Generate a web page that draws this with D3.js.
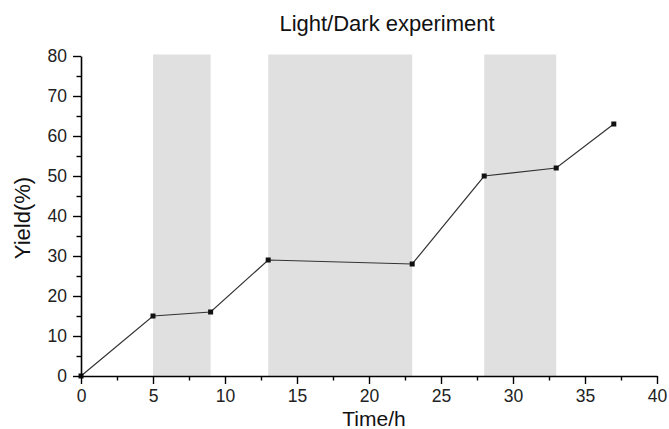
<!DOCTYPE html>
<html><head><meta charset="utf-8">
<script src="https://cdn.jsdelivr.net/npm/d3@7"></script>
<style>body{margin:0;background:#fff}svg{display:block}text{font-family:"Liberation Sans",Arial,sans-serif}</style>
</head><body>
<svg id="c" width="669" height="429"></svg>
<script>
const timeH = [0, 5, 9, 13, 23, 28, 33, 37];
const yieldPct = [0, 15, 16, 29, 28, 50, 52, 63];
const darkStart = [5, 13, 28];
const darkEnd = [9, 23, 33];
const xTicks = [0, 5, 10, 15, 20, 25, 30, 35, 40];
const yTicks = [0, 10, 20, 30, 40, 50, 60, 70, 80];

const svg = d3.select("#c");
const x = d3.scaleLinear().domain([0, 40]).range([81, 657]);
const y = d3.scaleLinear().domain([0, 80]).range([376, 56]);

svg.selectAll("rect.dark").data(darkStart).enter().append("rect")
  .attr("x", (d) => x(d)).attr("width", (d, i) => x(darkEnd[i]) - x(d))
  .attr("y", y(80) - 1.5).attr("height", y(0) - y(80) + 1.5).attr("fill", "#e0e0e0");

const pts = timeH.map((t, i) => [t, yieldPct[i]]);
svg.append("path").datum(pts)
  .attr("d", d3.line().x(d => x(d[0])).y(d => y(d[1])))
  .attr("fill", "none").attr("stroke", "#333").attr("stroke-width", 1.2);
svg.selectAll("rect.pt").data(pts).enter().append("rect")
  .attr("x", d => x(d[0]) - 2.5).attr("y", d => y(d[1]) - 2.5)
  .attr("width", 5).attr("height", 5).attr("fill", "#111");

function styleAxis(g) {
  g.select(".domain").attr("stroke", "#000").attr("stroke-width", 1.6);
  g.selectAll(".tick line").attr("stroke", "#000").attr("stroke-width", 1.4);
  g.selectAll(".tick text").attr("font-size", 17.5).attr("fill", "#222");
}

const xMinor = d3.range(2.5, 40, 5);
const yMinor = d3.range(5, 80, 10);
svg.append("g").attr("transform", `translate(0,${y(0)})`)
  .call(d3.axisBottom(x).tickValues(xMinor).tickSize(4.5).tickFormat("").tickSizeOuter(0))
  .call(g => { g.select(".domain").remove(); g.selectAll(".tick line").attr("stroke", "#000").attr("stroke-width", 1.4); });
svg.append("g").attr("transform", `translate(${x(0)},0)`)
  .call(d3.axisLeft(y).tickValues(yMinor).tickSize(4.5).tickFormat("").tickSizeOuter(0))
  .call(g => { g.select(".domain").remove(); g.selectAll(".tick line").attr("stroke", "#000").attr("stroke-width", 1.4); });

svg.append("g").attr("transform", `translate(0,${y(0)})`)
  .call(d3.axisBottom(x).tickValues(xTicks).tickSize(8).tickPadding(6).tickSizeOuter(0).tickFormat(d3.format("d")))
  .call(styleAxis);
svg.append("g").attr("transform", `translate(${x(0)},0)`)
  .call(d3.axisLeft(y).tickValues(yTicks).tickSize(8).tickPadding(6).tickSizeOuter(0).tickFormat(d3.format("d")))
  .call(styleAxis);

svg.append("text").attr("x", 387).attr("y", 31).attr("text-anchor", "middle")
  .attr("font-size", 22).attr("fill", "#111").text("Light/Dark experiment");
svg.append("text").attr("x", 374).attr("y", 425.5).attr("text-anchor", "middle")
  .attr("font-size", 21).attr("fill", "#111").text("Time/h");
svg.append("text").attr("transform", "translate(30,218) rotate(-90)").attr("text-anchor", "middle")
  .attr("font-size", 22).attr("fill", "#111").text("Yield(%)");
</script>
</body></html>
